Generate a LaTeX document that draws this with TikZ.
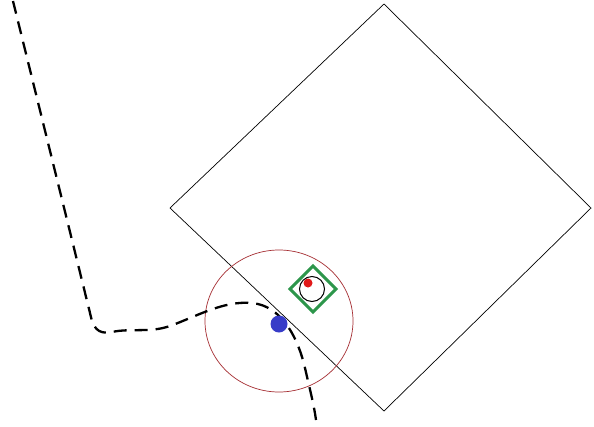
\documentclass[tikz,border=0pt]{standalone}
\definecolor{rangered}{RGB}{165,45,50}
\definecolor{boxgreen}{RGB}{45,150,75}
\definecolor{dotblue}{RGB}{55,60,200}
\definecolor{dotred}{RGB}{225,25,25}
\begin{document}
\begin{tikzpicture}[x=1pt,y=-1pt,
  sqline/.style={draw=black,line width=0.7pt},
  rangecirc/.style={draw=rangered,line width=0.7pt},
  trailpath/.style={draw=black,line width=2.3pt,dash pattern=on 13pt off 8pt},
  gbox/.style={draw=boxgreen,line width=3pt},
  ]
\useasboundingbox (0,0) rectangle (594,426);
\fill[white] (0,0) rectangle (594,426);
% big square
\draw[sqline] (384,4) -- (591,208) -- (384,411) -- (170,208) -- cycle;
% red range circle
\draw[rangecirc] (279,321) ellipse (74 and 71);
% dashed trail
\draw[trailpath] (13,1) -- (90,313)
  .. controls (93,327) and (97,335) .. (112,332)
  .. controls (130,328) and (150,333) .. (170,326)
  .. controls (200,315) and (228,298) .. (258,304)
  .. controls (283,310) and (298,338) .. (305,368)
  .. controls (310,390) and (314,405) .. (316,420);
% green diamond
\draw[gbox] (313,266) -- (336,289) -- (313,312) -- (290,289) -- cycle;
% small black circle
\draw[black,line width=1pt] (312,289) circle (12.5);
% red dot
\fill[dotred] (308,283) circle (4.5);
% blue dot
\fill[dotblue] (279,324) circle (8.5);
\end{tikzpicture}
\end{document}
